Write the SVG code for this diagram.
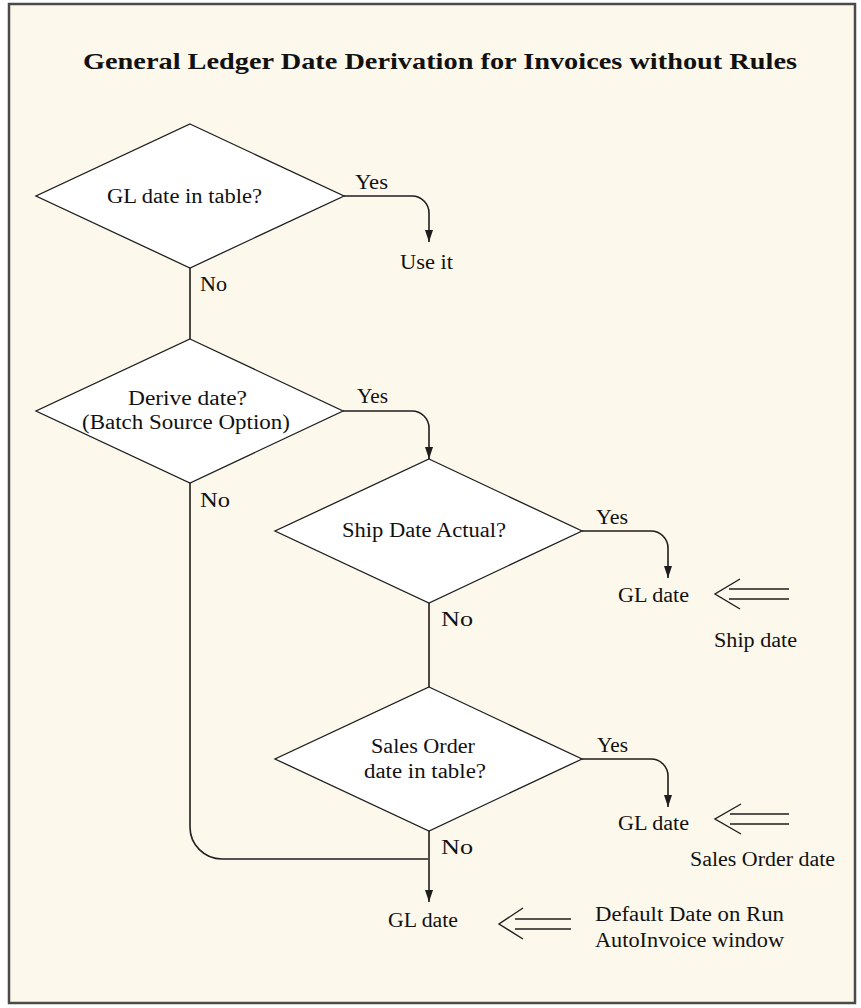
<svg xmlns="http://www.w3.org/2000/svg" width="861" height="1008" viewBox="0 0 861 1008">
<defs>
<style>
.bg{fill:#fdf8ec;stroke:#4a4a4a;stroke-width:2.5}
.dia{fill:#ffffff;stroke:#1e1e1e;stroke-width:1.3}
.ln{fill:none;stroke:#1e1e1e;stroke-width:1.6}
.arr{fill:none;stroke:#1e1e1e;stroke-width:1.4}
text{font-family:"Liberation Serif","Times New Roman",serif;font-size:20px;fill:#111}
.title{font-size:24px;font-weight:bold}
</style>
<marker id="ah" viewBox="0 0 12 8" refX="12" refY="4" markerWidth="12" markerHeight="8" markerUnits="userSpaceOnUse" orient="auto">
<path d="M0,0 L12,4 L0,8 z" fill="#1e1e1e"/>
</marker>
</defs>
<rect x="0" y="0" width="861" height="1008" fill="#ffffff"/>
<rect class="bg" x="9" y="4" width="846" height="999"/>
<text class="title" x="83" y="69" textLength="714" lengthAdjust="spacingAndGlyphs">General Ledger Date Derivation for Invoices without Rules</text>

<g id="connectors">
<path class="ln" d="M344 196 H412 A17 17 0 0 1 429 213 V242" marker-end="url(#ah)"/>
<path class="ln" d="M190 268 V339"/>
<path class="ln" d="M343 411 H412 A17 17 0 0 1 429 428 V459" marker-end="url(#ah)"/>
<path class="ln" d="M190 483 V827 A32 32 0 0 0 222 859 H428"/>
<path class="ln" d="M582 531 H651 A17 17 0 0 1 668 548 V578" marker-end="url(#ah)"/>
<path class="ln" d="M429 603 V687"/>
<path class="ln" d="M582 759 H651 A17 17 0 0 1 668 776 V807" marker-end="url(#ah)"/>
<path class="ln" d="M429 831 V902" marker-end="url(#ah)"/>
<path class="arr" d="M740 579 L715 594 L740 609 M729 589 H789 M729 599 H789"/>
<path class="arr" d="M741 804 L715 819 L741 834 M730 814 H789 M730 824 H789"/>
<path class="arr" d="M523 908 L499 924 L523 939 M515 919 H571 M515 929 H571"/>
</g>

<g id="d1">
<polygon class="dia" points="190,124 344,196 190,268 36,196"/>
<text x="107" y="203" textLength="155" lengthAdjust="spacingAndGlyphs">GL date in table?</text>
</g>
<g id="use-it">
<text x="400" y="269" textLength="53" lengthAdjust="spacingAndGlyphs">Use it</text>
</g>
<g id="d2">
<polygon class="dia" points="190,339 343,411 190,483 36,411"/>
<text x="128" y="405" textLength="119" lengthAdjust="spacingAndGlyphs">Derive date?</text>
<text x="82" y="429" textLength="208" lengthAdjust="spacingAndGlyphs">(Batch Source Option)</text>
</g>
<g id="d3">
<polygon class="dia" points="429,459 582,531 429,603 275,531"/>
<text x="342" y="537" textLength="164" lengthAdjust="spacingAndGlyphs">Ship Date Actual?</text>
</g>
<g id="gl1">
<text x="618" y="602" textLength="71" lengthAdjust="spacingAndGlyphs">GL date</text>
</g>
<g id="ship-date">
<text x="714" y="647" textLength="83" lengthAdjust="spacingAndGlyphs">Ship date</text>
</g>
<g id="d4">
<polygon class="dia" points="429,687 582,759 429,831 275,759"/>
<text x="371" y="753" textLength="104" lengthAdjust="spacingAndGlyphs">Sales Order</text>
<text x="364" y="778" textLength="122" lengthAdjust="spacingAndGlyphs">date in table?</text>
</g>
<g id="gl2">
<text x="618" y="830" textLength="71" lengthAdjust="spacingAndGlyphs">GL date</text>
</g>
<g id="so-date">
<text x="690" y="866" textLength="145" lengthAdjust="spacingAndGlyphs">Sales Order date</text>
</g>
<g id="gl3">
<text x="388" y="927" textLength="70" lengthAdjust="spacingAndGlyphs">GL date</text>
</g>
<g id="default-date">
<text x="595" y="921" textLength="189" lengthAdjust="spacingAndGlyphs">Default Date on Run</text>
<text x="595" y="947" textLength="189" lengthAdjust="spacingAndGlyphs">AutoInvoice window</text>
</g>

<g id="labels">
<text x="355" y="189" textLength="33" lengthAdjust="spacingAndGlyphs">Yes</text>
<text x="200" y="291" textLength="27" lengthAdjust="spacingAndGlyphs">No</text>
<text x="357" y="403" textLength="31" lengthAdjust="spacingAndGlyphs">Yes</text>
<text x="200" y="507" textLength="30" lengthAdjust="spacingAndGlyphs">No</text>
<text x="596" y="524" textLength="32" lengthAdjust="spacingAndGlyphs">Yes</text>
<text x="441" y="626" textLength="32" lengthAdjust="spacingAndGlyphs">No</text>
<text x="597" y="752" textLength="31" lengthAdjust="spacingAndGlyphs">Yes</text>
<text x="441" y="854" textLength="32" lengthAdjust="spacingAndGlyphs">No</text>
</g>
</svg>
